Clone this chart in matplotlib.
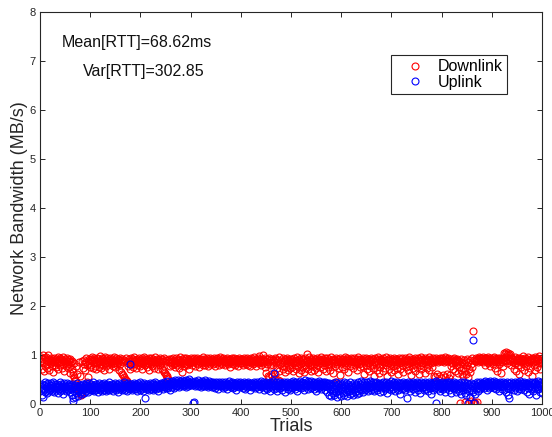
import numpy as np
import matplotlib
matplotlib.use("Agg")
import matplotlib.pyplot as plt

plt.rcParams['font.family'] = ['Liberation Sans', 'DejaVu Sans']

# Bandwidth per trial, in hundredths of MB/s (trial 1..1000)
downlink_x100 = [
    88, 96, 72, 85, 100, 91, 67, 84, 93, 78, 89, 95, 81, 74, 99, 87, 92, 69, 86, 90,
    83, 94, 77, 88, 91, 65, 86, 93, 80, 89, 75, 92, 87, 84, 96, 71, 90, 85, 79, 93,
    86, 91, 74, 89, 95, 82, 88, 68, 92, 84, 90, 77, 87, 93, 81, 73, 89, 86, 64, 91,
    85, 79, 72, 88, 66, 60, 56, 83, 50, 46, 78, 41, 37, 62, 33, 29, 85, 26, 22, 58,
    20, 18, 87, 24, 74, 30, 81, 90, 35, 70, 86, 93, 45, 79, 88, 55, 84, 91, 76, 89,
    92, 80, 87, 95, 73, 89, 84, 93, 78, 90, 86, 71, 94, 83, 88, 91, 76, 85, 97, 82,
    89, 74, 93, 86, 80, 91, 87, 69, 95, 84, 90, 78, 88, 93, 82, 86, 72, 91, 87, 94,
    81, 89, 85, 92, 77, 88, 96, 83, 90, 75, 87, 93, 84, 79, 91, 86, 70, 89, 94, 82,
    88, 65, 91, 62, 85, 59, 90, 56, 52, 87, 49, 93, 46, 42, 84, 78, 92, 88, 71, 86,
    93, 80, 89, 84, 76, 91, 87, 95, 82, 88, 73, 90, 85, 92, 79, 86, 94, 83, 89, 77,
    90, 85, 93, 72, 88, 81, 95, 86, 79, 91, 84, 89, 76, 92, 87, 83, 94, 69, 88, 90,
    82, 93, 86, 78, 91, 87, 74, 89, 95, 83, 88, 80, 92, 85, 71, 90, 86, 93, 79, 88,
    84, 72, 91, 69, 87, 66, 93, 63, 85, 60, 89, 57, 54, 90, 52, 86, 92, 78, 88, 83,
    91, 86, 79, 94, 88, 82, 90, 75, 87, 93, 84, 89, 80, 92, 86, 73, 90, 85, 95, 81,
    88, 92, 66, 84, 90, 77, 93, 86, 89, 82, 94, 79, 87, 91, 85, 72, 90, 88, 83, 93,
    86, 90, 80, 92, 85, 88, 94, 78, 89, 91, 84, 87, 93, 82, 90, 76, 88, 92, 85, 89,
    91, 83, 88, 95, 80, 87, 92, 86, 79, 90, 84, 93, 88, 77, 91, 85, 89, 94, 82, 87,
    90, 86, 92, 81, 88, 94, 84, 89, 78, 91, 87, 93, 83, 90, 86, 80, 92, 88, 95, 84,
    89, 91, 82, 87, 93, 85, 90, 79, 88, 92, 86, 84, 94, 81, 89, 90, 87, 76, 92, 88,
    85, 93, 89, 82, 90, 87, 94, 80, 88, 91, 84, 92, 86, 78, 90, 89, 93, 83, 87, 91,
    88, 84, 92, 90, 79, 87, 93, 85, 89, 82, 91, 86, 94, 80, 88, 92, 85, 90, 77, 89,
    93, 86, 88, 81, 91, 95, 84, 89, 87, 92, 78, 90, 86, 93, 83, 88, 97, 85, 91, 80,
    89, 92, 86, 99, 84, 90, 87, 76, 93, 88, 63, 82, 91, 58, 86, 94, 55, 80, 89, 61,
    92, 57, 85, 90, 79, 53, 88, 93, 62, 84, 91, 74, 87, 50, 89, 95, 67, 82, 46, 90,
    86, 78, 93, 71, 88, 84, 65, 91, 89, 76, 94, 83, 69, 90, 87, 80, 92, 73, 86, 89,
    75, 91, 84, 68, 88, 93, 79, 86, 72, 90, 85, 95, 77, 89, 63, 92, 82, 87, 70, 94,
    84, 89, 76, 91, 66, 86, 93, 80, 88, 74, 102, 90, 83, 71, 95, 87, 79, 92, 68, 85,
    90, 77, 88, 94, 82, 69, 91, 86, 73, 89, 93, 80, 87, 65, 92, 84, 90, 76, 88, 95,
    83, 91, 72, 87, 89, 79, 94, 85, 68, 90, 86, 93, 75, 88, 82, 91, 70, 87, 95, 80,
    89, 84, 92, 63, 86, 90, 78, 45, 93, 88, 81, 42, 91, 85, 74, 89, 94, 60, 87, 83,
    90, 76, 92, 86, 88, 71, 95, 84, 89, 80, 93, 87, 66, 91, 85, 90, 78, 88, 94, 82,
    87, 91, 73, 89, 85, 93, 79, 88, 90, 84, 69, 92, 86, 95, 81, 89, 75, 91, 87, 83,
    90, 88, 77, 93, 85, 62, 91, 87, 80, 94, 72, 89, 86, 92, 67, 84, 90, 78, 88, 93,
    82, 89, 74, 91, 86, 58, 93, 85, 79, 90, 88, 70, 95, 84, 63, 91, 87, 76, 89, 92,
    81, 88, 68, 93, 86, 90, 73, 85, 96, 79, 89, 57, 92, 84, 87, 71, 90, 94, 82, 66,
    88, 91, 77, 85, 93, 69, 89, 86, 80, 92, 74, 90, 87, 61, 94, 83, 88, 72, 91, 85,
    79, 93, 88, 65, 90, 86, 94, 75, 89, 82, 91, 70, 87, 96, 78, 92, 84, 59, 90, 88,
    85, 73, 92, 89, 81, 94, 67, 87, 90, 84, 76, 93, 88, 62, 91, 86, 80, 95, 71, 89,
    92, 84, 77, 90, 87, 64, 93, 85, 89, 73, 91, 88, 80, 96, 69, 86, 92, 83, 90, 75,
    88, 94, 86, 58, 91, 90, 55, 87, 93, 89, 61, 92, 85, 57, 90, 94, 88, 53, 91, 87,
    93, 59, 89, 92, 86, 56, 95, 90, 88, 62, 91, 87, 94, 54, 89, 92, 60, 86, 78, 90,
    84, 91, 72, 88, 93, 67, 86, 90, 79, 92, 85, 64, 89, 76, 87, 3, 82, 70, 91, 62,
    86, 74, 58, 90, 83, 68, 4, 88, 61, 79, 92, 56, 85, 2, 72, 89, 66, 6, 81, 76,
    94, 148, 3, 90, 5, 87, 2, 93, 88, 4, 91, 86, 92, 95, 89, 93, 87, 94, 90, 88,
    92, 85, 95, 89, 91, 80, 93, 88, 94, 86, 90, 96, 83, 92, 89, 77, 94, 87, 91, 85,
    90, 93, 82, 88, 95, 74, 91, 86, 89, 92, 68, 87, 94, 81, 90, 93, 85, 64, 89, 91,
    86, 93, 78, 90, 104, 88, 103, 95, 106, 84, 101, 92, 105, 89, 100, 87, 103, 93, 80, 90,
    94, 85, 91, 72, 88, 96, 83, 90, 67, 92, 87, 79, 93, 89, 61, 86, 94, 90, 75, 88,
    92, 84, 97, 70, 89, 86, 93, 78, 91, 88, 65, 95, 83, 90, 87, 73, 92, 89, 57, 94,
    86, 91, 80, 88, 95, 69, 90, 87, 93, 76, 89, 92, 84, 98, 71, 88, 91, 83, 90, 86,
]

uplink_x100 = [
    36, 28, 41, 19, 33, 15, 38, 30, 44, 25, 35, 40, 22, 37, 31, 43, 27, 34, 39, 29,
    42, 33, 26, 38, 35, 45, 30, 24, 40, 36, 32, 28, 41, 37, 23, 34, 39, 31, 44, 27,
    35, 40, 29, 37, 33, 21, 42, 36, 31, 38, 26, 34, 43, 30, 39, 28, 36, 41, 32, 25,
    37, 30, 18, 40, 7, 12, 34, 27, 15, 38, 31, 22, 36, 42, 29, 17, 35, 26, 39, 33,
    24, 37, 20, 32, 41, 28, 35, 22, 38, 30, 43, 27, 34, 39, 25, 36, 31, 42, 29, 37,
    33, 40, 28, 36, 31, 44, 26, 38, 34, 29, 41, 35, 30, 37, 24, 39, 32, 43, 28, 35,
    38, 31, 27, 40, 35, 33, 42, 29, 36, 39, 26, 34, 41, 30, 37, 32, 44, 28, 35, 38,
    30, 36, 41, 33, 27, 39, 35, 31, 43, 37, 29, 34, 40, 32, 25, 38, 36, 42, 30, 34,
    39, 33, 28, 37, 41, 31, 35, 44, 29, 38, 34, 40, 27, 36, 32, 42, 37, 30, 39, 82,
    35, 41, 33, 28, 38, 36, 43, 31, 39, 34, 30, 40, 37, 26, 42, 35, 32, 38, 44, 29,
    36, 33, 40, 31, 38, 27, 35, 42, 37, 13, 34, 39, 30, 41, 36, 32, 28, 38, 43, 35,
    31, 37, 40, 34, 29, 42, 36, 33, 39, 44, 30, 38, 35, 41, 27, 37, 32, 40, 36, 43,
    38, 34, 41, 36, 31, 44, 39, 35, 42, 33, 40, 37, 46, 32, 38, 43, 36, 41, 29, 45,
    40, 47, 35, 42, 38, 44, 33, 49, 41, 37, 45, 39, 36, 43, 48, 34, 41, 46, 38, 42,
    45, 39, 50, 36, 43, 41, 47, 38, 44, 35, 49, 42, 40, 46, 37, 44, 51, 39, 43, 41,
    46, 38, 42, 3, 44, 5, 40, 47, 37, 43, 39, 45, 41, 36, 48, 42, 38, 44, 40, 35,
    43, 39, 46, 41, 37, 44, 40, 48, 36, 42, 45, 38, 41, 34, 43, 39, 46, 40, 37, 44,
    38, 42, 35, 45, 40, 37, 43, 33, 41, 39, 44, 36, 42, 38, 31, 40, 45, 37, 43, 39,
    41, 36, 44, 38, 33, 42, 39, 45, 35, 40, 37, 43, 30, 41, 38, 46, 36, 42, 39, 34,
    40, 44, 37, 32, 42, 39, 35, 43, 38, 41, 29, 36, 44, 40, 37, 42, 34, 39, 45, 38,
    36, 42, 39, 33, 41, 45, 37, 40, 31, 43, 38, 35, 42, 39, 44, 36, 40, 28, 41, 37,
    43, 38, 34, 41, 37, 45, 39, 32, 42, 36, 40, 44, 35, 38, 41, 30, 43, 37, 39, 46,
    37, 41, 34, 44, 39, 28, 42, 36, 40, 33, 45, 38, 31, 43, 39, 35, 41, 26, 44, 37,
    40, 34, 42, 38, 46, 30, 63, 41, 36, 44, 33, 39, 27, 42, 37, 45, 32, 40, 38, 35,
    43, 29, 40, 37, 44, 34, 41, 25, 38, 42, 36, 45, 31, 39, 43, 35, 40, 28, 44, 37,
    41, 33, 38, 46, 35, 42, 30, 39, 44, 36, 40, 27, 43, 37, 41, 34, 47, 38, 32, 42,
    39, 45, 35, 41, 29, 43, 37, 49, 40, 34, 42, 38, 46, 31, 39, 44, 36, 41, 33, 47,
    40, 35, 43, 38, 30, 45, 41, 36, 42, 27, 39, 44, 37, 33, 46, 40, 35, 42, 38, 31,
    43, 39, 34, 45, 37, 41, 29, 44, 38, 36, 42, 24, 40, 35, 19, 43, 31, 38, 16, 41,
    27, 36, 22, 42, 33, 18, 39, 30, 45, 25, 37, 15, 41, 28, 34, 20, 43, 31, 17, 38,
    26, 40, 22, 35, 44, 19, 32, 38, 24, 42, 29, 16, 36, 41, 27, 33, 21, 45, 30, 37,
    23, 39, 34, 18, 43, 28, 36, 25, 41, 32, 20, 38, 44, 26, 35, 22, 40, 31, 46, 29,
    37, 42, 24, 39, 33, 45, 28, 36, 41, 30, 38, 44, 27, 35, 40, 32, 46, 37, 29, 43,
    35, 40, 31, 44, 38, 26, 42, 36, 33, 45, 39, 29, 41, 37, 34, 43, 24, 40, 36, 32,
    42, 38, 27, 44, 35, 40, 31, 37, 45, 33, 39, 22, 41, 36, 43, 30, 38, 34, 46, 28,
    40, 35, 42, 31, 38, 44, 26, 39, 36, 41, 33, 45, 29, 37, 42, 34, 39, 21, 43, 36,
    30, 41, 37, 44, 33, 39, 28, 42, 35, 40, 13, 38, 45, 32, 36, 43, 27, 40, 34, 41,
    37, 44, 31, 39, 42, 25, 36, 40, 33, 45, 38, 29, 43, 35, 41, 23, 39, 36, 44, 32,
    40, 34, 42, 28, 38, 45, 35, 41, 31, 37, 43, 26, 39, 36, 44, 33, 40, 20, 42, 38,
    35, 41, 29, 44, 37, 32, 40, 46, 2, 36, 42, 30, 39, 34, 43, 27, 41, 38, 33, 45,
    37, 40, 31, 43, 35, 39, 25, 42, 36, 44, 32, 38, 41, 28, 45, 34, 40, 37, 23, 42,
    36, 39, 33, 44, 30, 41, 37, 24, 43, 35, 40, 31, 38, 27, 42, 34, 39, 21, 45, 36,
    32, 41, 28, 37, 44, 23, 39, 35, 19, 42, 30, 38, 2, 26, 40, 33, 15, 36, 43, 29,
    37, 130, 24, 41, 3, 34, 20, 39, 30, 44, 36, 27, 42, 38, 33, 45, 31, 40, 37, 43,
    35, 41, 38, 44, 32, 39, 46, 36, 42, 29, 40, 45, 37, 33, 43, 39, 47, 35, 41, 38,
    44, 36, 40, 33, 46, 39, 42, 30, 45, 37, 41, 34, 43, 38, 27, 44, 40, 36, 42, 31,
    39, 45, 35, 41, 29, 43, 38, 24, 40, 36, 44, 33, 19, 12, 42, 37, 30, 45, 39, 34,
    41, 36, 43, 28, 38, 45, 33, 40, 37, 26, 42, 35, 44, 31, 39, 46, 36, 41, 30, 43,
    37, 42, 34, 45, 29, 40, 36, 43, 25, 38, 41, 33, 44, 20, 39, 36, 42, 31, 45, 35,
    40, 27, 43, 37, 32, 44, 38, 18, 41, 35, 46, 30, 39, 42, 24, 36, 44, 33, 40, 22,
]

mean_rtt_ms = 68.62
var_rtt = 302.85

downlink = np.array(downlink_x100) / 100.0
uplink = np.array(uplink_x100) / 100.0
trials = np.arange(1, len(downlink) + 1)

fig = plt.figure(figsize=(5.52, 4.37), dpi=100)
ax = fig.add_axes([0.0725, 0.0755, 0.9095, 0.897])

marker_kw = dict(linestyle='none', marker='o', markersize=5.0,
                 markerfacecolor='none', markeredgewidth=0.8)
ax.plot(trials, downlink, color=(1, 0, 0), label='Downlink', **marker_kw)
ax.plot(trials, uplink, color=(0, 0, 1), label='Uplink', **marker_kw)

ax.set_xlim(0, 1000)
ax.set_ylim(0, 8)
ax.set_xticks(np.arange(0, 1001, 100))
ax.set_yticks(np.arange(0, 9, 1))
ax.tick_params(direction='in', top=True, right=True, length=3.5, width=0.7,
               labelsize=8, labelcolor='#262626', color='#262626', pad=3)
for sp in ax.spines.values():
    sp.set_linewidth(0.8)
    sp.set_color('#262626')

ax.set_xlabel('Trials', fontsize=13, color='#262626', labelpad=0)
ax.set_ylabel('Network Bandwidth (MB/s)', fontsize=13, color='#262626', labelpad=1)

ax.text(0.0438, 0.923, f'Mean[RTT]={mean_rtt_ms:.2f}ms', transform=ax.transAxes,
        fontsize=11.5, va='center', ha='left', color='#111111')
ax.text(0.0857, 0.847, f'Var[RTT]={var_rtt:.2f}', transform=ax.transAxes,
        fontsize=11.5, va='center', ha='left', color='#111111')

leg = ax.legend(loc='upper left', bbox_to_anchor=(0.699, 0.890), borderaxespad=0,
                fontsize=11.5, frameon=True, fancybox=False, framealpha=1,
                edgecolor='#262626', handletextpad=0.2, handlelength=2.5,
                borderpad=0.25, labelspacing=0.05, markerscale=1.0)
leg.get_frame().set_linewidth(0.8)

fig.savefig('out.png', dpi=100)
